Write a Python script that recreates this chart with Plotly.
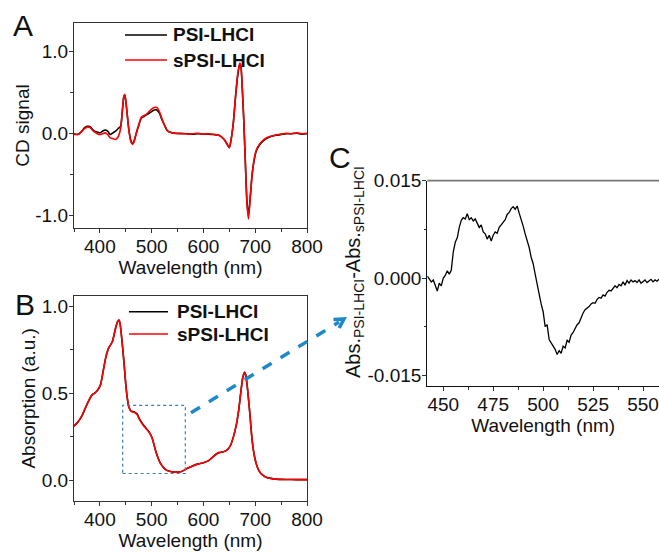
import plotly.graph_objects as go

W, H = 659, 552

# ---------------- data ----------------
wl_A = [350,355,360,365,370,375,378,382,386,390,395,400,405,410,415,420,425,430,435,440,
        443,446,448,450,453,456,460,463,466,470,475,480,485,490,495,500,505,510,515,520,
        525,530,535,540,550,560,570,580,590,600,610,620,630,640,645,650,654,658,662,666,
        670,672,675,678,681,684,687,690,694,698,702,708,715,722,730,740,750,760,770,780,790,800]
cd_psi = [0.00,-0.01,0.00,0.03,0.07,0.09,0.09,0.08,0.05,0.03,0.02,0.01,0.03,0.045,0.03,-0.01,0.01,0.03,0.06,0.09,
          0.25,0.44,0.47,0.40,0.22,0.05,-0.09,-0.12,-0.09,0.00,0.10,0.19,0.21,0.23,0.25,0.27,0.29,0.29,0.25,0.17,
          0.10,0.04,0.02,0.01,0.005,0.00,0.00,-0.005,0.00,-0.005,-0.005,-0.01,-0.02,-0.07,-0.12,-0.17,-0.05,0.15,0.45,0.70,
          0.84,0.83,0.55,0.15,-0.35,-0.82,-1.00,-0.80,-0.50,-0.32,-0.21,-0.14,-0.09,-0.06,-0.035,-0.02,-0.01,0.00,0.00,0.005,-0.005,0.00]
cd_spsi = [-0.01,-0.01,0.00,0.03,0.06,0.08,0.08,0.07,0.04,0.02,0.00,-0.01,0.00,0.01,-0.01,-0.05,-0.06,-0.07,-0.04,0.06,
           0.25,0.45,0.48,0.41,0.22,0.04,-0.10,-0.13,-0.10,0.00,0.11,0.20,0.22,0.24,0.27,0.30,0.32,0.32,0.27,0.18,
           0.10,0.04,0.02,0.01,0.00,0.005,-0.005,0.00,0.005,-0.005,0.00,-0.01,-0.02,-0.07,-0.12,-0.17,-0.05,0.15,0.46,0.72,
           0.86,0.84,0.56,0.15,-0.36,-0.85,-1.04,-0.82,-0.50,-0.31,-0.20,-0.13,-0.08,-0.05,-0.03,-0.015,-0.005,0.005,0.00,0.01,0.00,0.005]

wl_B = [350,358,366,372,379,385,390,395,401,406,411,417,424,430,434,437,439,441,444,447,
        450,453,456,460,466,472,476,482,488,495,501,507,512,517,522,527,533,540,548,556,
        562,569,578,588,600,610,615,620,625,630,637,643,648,653,658,663,668,672,676,679.5,
        682,686,690,694,699,704,709,714,720,730,740,760,780,800]
abs_psi = [0.31,0.335,0.374,0.415,0.46,0.49,0.50,0.515,0.546,0.62,0.70,0.76,0.795,0.87,0.91,0.92,0.90,0.85,0.76,0.66,
           0.55,0.47,0.42,0.397,0.393,0.38,0.355,0.326,0.303,0.277,0.242,0.176,0.13,0.096,0.075,0.060,0.052,0.047,0.046,0.048,
           0.056,0.068,0.080,0.092,0.100,0.112,0.125,0.138,0.150,0.158,0.162,0.168,0.180,0.205,0.25,0.31,0.40,0.50,0.59,0.62,
           0.60,0.50,0.37,0.23,0.13,0.075,0.045,0.03,0.018,0.010,0.006,0.004,0.003,0.003]
abs_spsi = [0.31,0.335,0.374,0.415,0.46,0.49,0.50,0.515,0.546,0.62,0.70,0.76,0.795,0.87,0.91,0.92,0.90,0.85,0.76,0.66,
            0.55,0.47,0.42,0.395,0.39,0.375,0.35,0.322,0.30,0.275,0.24,0.175,0.13,0.096,0.075,0.060,0.052,0.047,0.046,0.048,
            0.056,0.068,0.080,0.092,0.100,0.112,0.125,0.138,0.150,0.158,0.162,0.168,0.180,0.205,0.25,0.31,0.40,0.50,0.59,0.62,
            0.60,0.50,0.37,0.23,0.13,0.075,0.045,0.03,0.018,0.010,0.006,0.004,0.003,0.003]

wl_C = list(range(442, 559))
diff_C = [0.0003,-0.0002,-0.0006,-0.0003,-0.0012,-0.0020,-0.0008,-0.0012,0.0000,0.0004,
          0.0011,0.0006,0.0012,0.0040,0.0055,0.0062,0.0078,0.0089,0.0093,0.0091,
          0.0099,0.0090,0.0093,0.0088,0.0091,0.0084,0.0078,0.0082,0.0071,0.0068,
          0.0060,0.0066,0.0057,0.0066,0.0071,0.0069,0.0078,0.0082,0.0087,0.0090,
          0.0098,0.0101,0.0107,0.0110,0.0106,0.0111,0.0100,0.0091,0.0080,0.0068,
          0.0058,0.0047,0.0032,0.0022,0.0006,-0.0012,-0.0025,-0.0040,-0.0052,-0.0075,
          -0.0072,-0.0095,-0.0100,-0.0106,-0.0110,-0.0118,-0.0112,-0.0116,-0.0105,-0.0108,
          -0.0096,-0.0099,-0.0088,-0.0084,-0.0078,-0.0072,-0.0069,-0.0060,-0.0054,-0.0049,
          -0.0047,-0.0044,-0.0040,-0.0038,-0.0039,-0.0033,-0.0030,-0.0031,-0.0026,-0.0028,
          -0.0022,-0.0019,-0.0020,-0.0015,-0.0012,-0.0015,-0.0010,-0.0012,-0.0006,-0.0011,
          -0.0004,-0.0008,-0.0003,-0.0006,-0.0004,-0.0007,-0.0003,-0.0008,-0.0005,-0.0003,
          -0.0007,-0.0004,-0.0002,-0.0006,-0.0003,-0.0005,-0.0002]

series_names = ["PSI-LHCI", "sPSI-LHCI"]
x_ticks_AB = [400, 500, 600, 700, 800]
y_ticks_A = [-1.0, 0.0, 1.0]
y_ticktext_A = ["-1.0", "0.0", "1.0"]
y_ticks_B = [0.0, 0.5, 1.0]
y_ticktext_B = ["0.0", "0.5", "1.0"]
x_ticks_C = [450, 475, 500, 525, 550]
y_ticks_C = [-0.015, 0.0, 0.015]
y_ticktext_C = ["-0.015", "0.000", "0.015"]

# ---------------- helpers ----------------
def px(x):
    return x / W

def py(y):
    return 1 - y / H

FONT = "Liberation Sans, Arial, sans-serif"
BLACK = "#000000"
RED = "#ff0000"

fig = go.Figure()
fig.add_trace(go.Scatter(x=wl_A, y=cd_psi, mode="lines", line=dict(color=BLACK, width=1.6, shape="spline", smoothing=0.6),
                         xaxis="x", yaxis="y", showlegend=False, name=series_names[0]))
fig.add_trace(go.Scatter(x=wl_A, y=cd_spsi, mode="lines", line=dict(color=RED, width=1.6, shape="spline", smoothing=0.6),
                         xaxis="x", yaxis="y", showlegend=False, name=series_names[1]))
fig.add_trace(go.Scatter(x=wl_B, y=abs_psi, mode="lines", line=dict(color=BLACK, width=1.6, shape="spline", smoothing=0.6),
                         xaxis="x2", yaxis="y2", showlegend=False, name=series_names[0]))
fig.add_trace(go.Scatter(x=wl_B, y=abs_spsi, mode="lines", line=dict(color=RED, width=1.6, shape="spline", smoothing=0.6),
                         xaxis="x2", yaxis="y2", showlegend=False, name=series_names[1]))
fig.add_trace(go.Scatter(x=wl_C, y=diff_C, mode="lines", line=dict(color=BLACK, width=1.3),
                         xaxis="x3", yaxis="y3", showlegend=False, name="difference"))

tickfont = dict(family=FONT, size=19, color="#111")
titlefont = dict(family=FONT, size=19, color="#111")

def xax(domain, rng, tickvals, minor_d, anchor, title, mirror=True, linecolor="#333"):
    return dict(domain=domain, range=rng, anchor=anchor, tickvals=tickvals, automargin=False,
                ticks="outside", ticklen=4, tickwidth=1.2, tickcolor="#333", ticklabelstandoff=-3,
                minor=dict(dtick=minor_d, tick0=0, ticks="outside", ticklen=2.5, tickcolor="#333"),
                showline=True, linecolor=linecolor, linewidth=1.3, mirror=mirror,
                showgrid=False, zeroline=False, tickfont=tickfont,
                title=dict(text=title, font=titlefont, standoff=0))

def yax(domain, rng, tickvals, ticktext, minor_d, anchor, title, mirror=True, linecolor="#333"):
    return dict(domain=domain, range=rng, anchor=anchor, tickvals=tickvals, ticktext=ticktext, automargin=False,
                ticks="outside", ticklen=4, tickwidth=1.2, tickcolor="#333", ticklabelstandoff=-3,
                minor=dict(dtick=minor_d, tick0=0, ticks="outside", ticklen=2.5, tickcolor="#333"),
                showline=True, linecolor=linecolor, linewidth=1.3, mirror=mirror,
                showgrid=False, zeroline=False, tickfont=tickfont,
                title=dict(text=title, font=titlefont, standoff=0))

fig.update_layout(
    width=W, height=H, margin=dict(l=0, r=0, t=0, b=0, autoexpand=False),
    paper_bgcolor="white", plot_bgcolor="white",
    font=dict(family=FONT, color="#111"),
    xaxis=xax([px(74), px(307)], [350, 800], x_ticks_AB, 50, "y", "Wavelength (nm)"),
    yaxis=yax([py(228), py(23)], [-1.15, 1.35], y_ticks_A, y_ticktext_A, 0.5, "x", "CD signal"),
    xaxis2=xax([px(74), px(307)], [350, 800], x_ticks_AB, 50, "y2", "Wavelength (nm)"),
    yaxis2=yax([py(501), py(295.7)], [-0.12, 1.06], y_ticks_B, y_ticktext_B, 0.25, "x2", "Absorption (a.u.)"),
    xaxis3=xax([px(427.3), 1.0], [442, 558], x_ticks_C, 12.5, "y3", "Wavelength (nm)", mirror=False, linecolor="#111"),
    yaxis3=yax([py(386), py(180.7)], [-0.01665, 0.015], y_ticks_C, y_ticktext_C, 0.0075, "x3",
               "", mirror=False, linecolor="#111"),
)

shapes = []
annotations = []

# legends (manual)
def legend(x0, x1, xt, y1, y2):
    for y, col, name in [(y1, BLACK, series_names[0]), (y2, RED, series_names[1])]:
        shapes.append(dict(type="line", xref="paper", yref="paper", x0=px(x0), x1=px(x1), y0=py(y), y1=py(y),
                           line=dict(color=col, width=1.5)))
        annotations.append(dict(xref="paper", yref="paper", x=px(xt), y=py(y), xanchor="left", yanchor="middle",
                                text="<b>%s</b>" % name, showarrow=False,
                                font=dict(family=FONT, size=19, color="#111")))

legend(125, 167, 171, 35, 60)
legend(129, 168, 175, 311.7, 334)

# panel letters
for letter, x, y in [("A", 11, 26), ("B", 13, 304), ("C", 327, 157)]:
    annotations.append(dict(xref="paper", yref="paper", x=px(x), y=py(y), xanchor="left", yanchor="middle",
                            text=letter, showarrow=False, font=dict(family=FONT, size=30, color="#111")))

# y title of panel C
annotations.append(dict(xref="paper", yref="paper", x=px(354), y=py(272), xanchor="center", yanchor="middle",
                        textangle=-90, showarrow=False,
                        text="Abs.<sub>PSI-LHCI</sub>-Abs.<sub>sPSI-LHCI</sub>",
                        font=dict(family=FONT, size=20, color="#111")))

# zoom box in panel B
shapes.append(dict(type="rect", xref="x2", yref="y2", x0=444, x1=565, y0=0.038, y1=0.43,
                   line=dict(color="#3f7fae", width=1.2, dash="dot")))

# top border of panel C
shapes.append(dict(type="line", xref="paper", yref="paper", x0=px(427.3), x1=1.0, y0=py(180.7), y1=py(180.7),
                   line=dict(color="#777", width=1.8)))

# dashed arrow
ARROW = "#1e88c8"
shapes.append(dict(type="line", xref="paper", yref="paper", x0=px(191), y0=py(412.7), x1=px(339), y1=py(322),
                   line=dict(color=ARROW, width=3.5, dash="dash")))
shapes.append(dict(type="path", xref="paper", yref="paper",
                   path="M %f %f L %f %f L %f %f" % (px(333.5), py(319.5), px(344), py(319), px(339.2), py(328)),
                   line=dict(color=ARROW, width=3.5)))

fig.update_layout(shapes=shapes, annotations=annotations)

fig.write_html("out.html", config={"displayModeBar": False},
               post_script="document.body.style.margin='0px';document.body.style.padding='0px';document.body.style.overflow='hidden';")
